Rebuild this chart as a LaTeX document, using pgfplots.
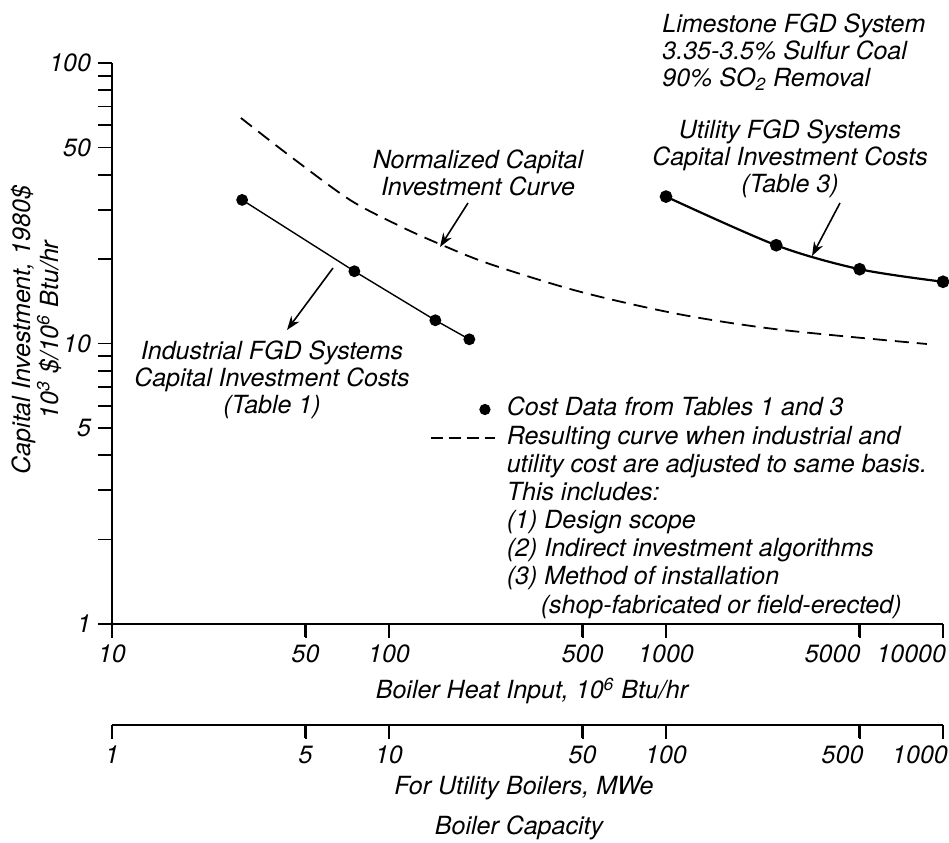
\documentclass[border=0pt]{standalone}
\usepackage{fontspec}
\setmainfont{TeX Gyre Heros}
\usepackage{pgfplots}
\pgfplotsset{compat=1.18}
\usetikzlibrary{arrows.meta}

\begin{document}
\begin{tikzpicture}[font=\itshape\fontsize{12.5}{13.5}\selectfont]
\useasboundingbox (-56pt,-109pt) rectangle (418.5pt,312pt);
\begin{axis}[
  at={(0pt,0pt)}, anchor=south west, scale only axis,
  width=415.5pt, height=280.5pt,
  xmode=log, ymode=log, xmin=10, xmax=10000, ymin=1, ymax=100,
  axis x line*=bottom, axis y line*=left,
  axis line style={line width=1pt, -},
  tick align=outside,
  xtick={10,50,100,500,1000,5000,10000},
  xticklabels={10,50,100,500,1000,\makebox[0.8pt][r]{5000},\makebox[3pt][r]{10000}},
  ytick={1,5,10,50,100},
  yticklabels={1,5,10,50,100},
  minor ytick={2,3,4,6,7,8,9,20,30,40,60,70,80,90},
  major tick length=7pt, minor tick length=7pt,
  tick style={black, line width=0.9pt},
  ticklabel style={font=\itshape\fontsize{12.5}{13.5}\selectfont},
  clip=false,
  legend cell align=left,
  legend style={draw=none, fill=none, inner sep=0pt, outer sep=0pt,
    at={(axis description cs:0.3827,0.405)}, anchor=north west,
    column sep=5.5pt, row sep=0pt,
    nodes={inner sep=0pt, text height=9.5pt, text depth=4.6pt},
    font=\itshape\fontsize{12.5}{13.5}\selectfont},
]
% Industrial FGD systems (Table 1)
\addplot[black, line width=0.7pt, mark=*, mark size=2.6pt, forget plot]
  coordinates {(29.5,32.5) (75,18.1) (147,12.1) (195,10.35)};
% Normalized capital investment curve
\addplot[black, line width=0.9pt, dash pattern=on 7pt off 4pt, smooth, forget plot]
  coordinates {(29.2,63.7) (43.9,46.6) (72.3,32.5) (109.6,26.2) (152.8,22.6)
               (231.5,19.2) (489,15.3) (1123,12.7) (2580,11.2) (8750,9.96)};
% Utility FGD systems (Table 3)
\addplot[black, line width=1.1pt, smooth, mark=*, mark size=2.6pt, forget plot]
  coordinates {(1000,33.4) (2500,22.4) (5000,18.4) (10000,16.6)};

% x tick marks
\draw[black, line width=1.2pt] (axis cs:10,1) -- ++(0pt,-6.5pt);
\draw[black, line width=1.2pt] (axis cs:50,1) -- ++(0pt,-6.5pt);
\draw[black, line width=1.2pt] (axis cs:100,1) -- ++(0pt,-6.5pt);
\draw[black, line width=1.2pt] (axis cs:500,1) -- ++(0pt,-6.5pt);
\draw[black, line width=1.2pt] (axis cs:1000,1) -- ++(0pt,-6.5pt);
\draw[black, line width=1.2pt] (axis cs:5000,1) -- ++(0pt,-6.5pt);
\draw[black, line width=1.2pt] (axis cs:10000,1) -- ++(0pt,-6.5pt);

\addlegendimage{legend image code/.code={\fill[black] (27pt,0.7pt) circle (2.6pt);}}
\addlegendentry{Cost Data from Tables 1 and 3}
\addlegendimage{legend image code/.code={\draw[black, line width=0.9pt, dash pattern=on 6pt off 3pt] (0pt,0.7pt) -- (32pt,0.7pt);}}
\addlegendentry{Resulting curve when industrial and}
\addlegendimage{empty legend}
\addlegendentry{utility cost are adjusted to same basis.}
\addlegendimage{empty legend}
\addlegendentry{This includes:}
\addlegendimage{empty legend}
\addlegendentry{(1) Design scope}
\addlegendimage{empty legend}
\addlegendentry{(2) Indirect investment algorithms}
\addlegendimage{empty legend}
\addlegendentry{(3) Method of installation}
\addlegendimage{empty legend}
\addlegendentry{\hspace*{17pt}(shop-fabricated or field-erected)}
\end{axis}

% Second scale: utility boiler capacity
\begin{axis}[
  at={(0pt,-50.5pt)}, anchor=south west, scale only axis,
  width=415.5pt, height=1pt,
  xmode=log, xmin=1, xmax=1000, ymin=0, ymax=1,
  axis x line*=bottom, hide y axis,
  axis line style={line width=1pt, -},
  tick align=outside,
  xtick={1,5,10,50,100,500,1000},
  xticklabels={1,5,10,50,100,\makebox[3.8pt][r]{500},\makebox[4.8pt][r]{1000}},
  major tick length=7pt,
  tick style={black, line width=0.9pt},
  ticklabel style={font=\itshape\fontsize{12.5}{13.5}\selectfont},
  clip=false,
]
\draw[black, line width=1.2pt] (axis cs:1,0) -- ++(0pt,-6.5pt);
\draw[black, line width=1.2pt] (axis cs:5,0) -- ++(0pt,-6.5pt);
\draw[black, line width=1.2pt] (axis cs:10,0) -- ++(0pt,-6.5pt);
\draw[black, line width=1.2pt] (axis cs:50,0) -- ++(0pt,-6.5pt);
\draw[black, line width=1.2pt] (axis cs:100,0) -- ++(0pt,-6.5pt);
\draw[black, line width=1.2pt] (axis cs:500,0) -- ++(0pt,-6.5pt);
\draw[black, line width=1.2pt] (axis cs:1000,0) -- ++(0pt,-6.5pt);
\end{axis}

% Annotations
\node[align=left, anchor=north west, inner sep=0pt] at (275pt,305.5pt)
  {Limestone FGD System\\3.35-3.5\% Sulfur Coal\\90\% SO\textsubscript{2} Removal};
\node[align=center] at (183pt,225.75pt) {Normalized Capital\\Investment Curve};
\node[align=center] at (339pt,232.75pt) {Utility FGD Systems\\Capital Investment Costs\\(Table 3)};
\node[align=center] at (80pt,122pt) {Industrial FGD Systems\\Capital Investment Costs\\(Table 1)};
\draw[-{Stealth[length=7pt,width=5pt]}, line width=0.8pt] (178pt,210.5pt) -- (164pt,188.5pt);
\draw[-{Stealth[length=7pt,width=5pt]}, line width=0.8pt] (110.5pt,178pt) -- (87.5pt,147pt);
\draw[-{Stealth[length=7pt,width=5pt]}, line width=0.8pt] (364pt,210.5pt) -- (350pt,184pt);

% Axis titles
\node[rotate=90, align=center, font=\itshape\fontsize{12.5}{14}\selectfont] at (-38pt,147pt)
  {Capital Investment, 1980\$\\10\textsuperscript{3} \$/10\textsuperscript{6} Btu/hr};
\node at (210pt,-33.5pt) {Boiler Heat Input, 10\textsuperscript{6} Btu/hr};
\node at (206pt,-82pt) {For Utility Boilers, MWe};
\node at (203.5pt,-102pt) {Boiler Capacity};
\end{tikzpicture}
\end{document}
